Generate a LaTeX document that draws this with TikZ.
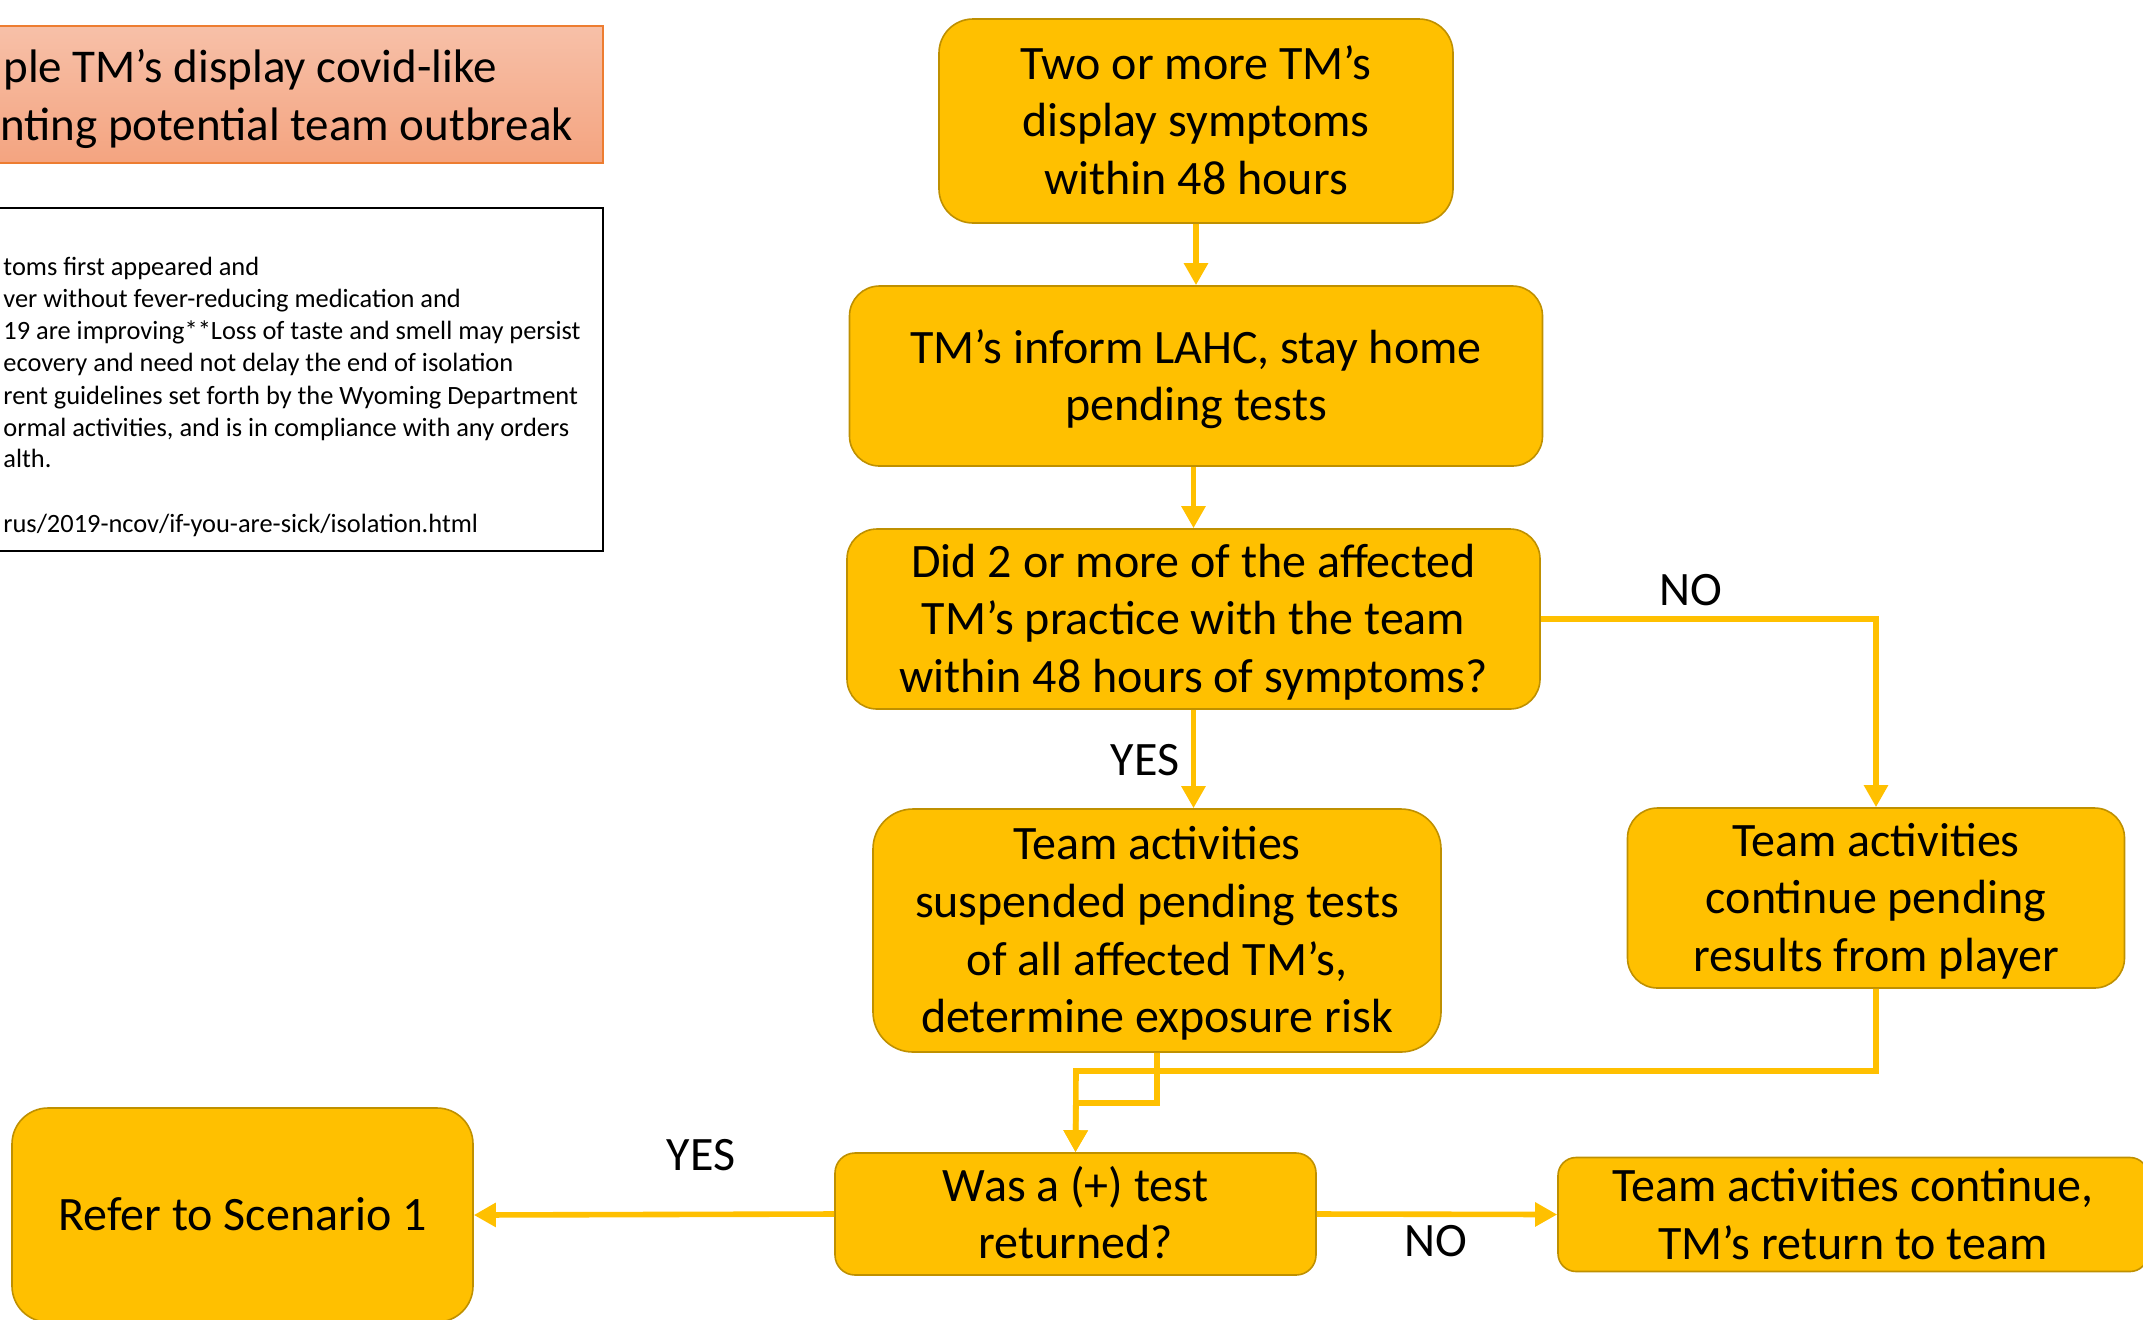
\documentclass[tikz,border=0pt]{standalone}
\usepackage{fontspec}
\setmainfont{Carlito}
\usetikzlibrary{arrows.meta}
\definecolor{gold}{HTML}{FFC000}
\definecolor{golddark}{HTML}{BF9000}
\definecolor{salmontop}{RGB}{247,192,168}
\definecolor{salmonbot}{RGB}{244,164,128}
\definecolor{salmonedge}{HTML}{ED7D31}
% fixed line-box struts so every step box centres its text the same way
\newcommand\firstlinestrut{\rule{0pt}{22pt}}
\newcommand\lastlinestrut{\rule[-6.2pt]{0pt}{6.2pt}}

\begin{document}
\begin{tikzpicture}[x=0.5pt,y=-0.5pt,
  stepbox/.style={draw=golddark, fill=gold, line width=0.8pt, align=center,
    inner sep=0pt, font=\fontsize{24}{28.8}\selectfont},
  flow/.style={draw=gold, line width=2.8pt, line join=miter,
    -{Triangle[length=11pt,width=11.5pt]}},
  lbl/.style={font=\fontsize{24}{28.8}\selectfont, inner sep=0pt},
  headtext/.style={anchor=base west, inner sep=0pt, font=\fontsize{23.5}{28.8}\selectfont},
  notetext/.style={anchor=base west, inner sep=0pt, font=\fontsize{13.2}{16}\selectfont}]
\clip (0,0) rectangle (2143,1319);

% title banner
\shadedraw[top color=salmontop, bottom color=salmonbot, draw=salmonedge, line width=0.6pt]
  (-20,26) rectangle (603,163);
\node[headtext] (h1) at (3,82) {ple TM’s display covid-like};
\node[headtext] (h2) at (0,140) {nting potential team outbreak};

% isolation notes
\draw[black, line width=1pt, fill=white] (-20,208) rectangle (603,551);
\node[notetext] (n1) at (3,275) {toms first appeared and};
\node[notetext] (n2) at (3,307) {ver without fever-reducing medication and};
\node[notetext] (n3) at (3,339.5) {19 are improving**Loss of taste and smell may persist};
\node[notetext] (n4) at (3,371.5) {ecovery and need not delay the end of isolation};
\node[notetext] (n5) at (3,404) {rent guidelines set forth by the Wyoming Department};
\node[notetext] (n6) at (3,436) {ormal activities, and is in compliance with any orders};
\node[notetext] (n7) at (3,467.5) {alth.};
\node[notetext] (n8) at (3,532) {rus/2019-ncov/if-you-are-sick/isolation.html};

% flow steps
\node[stepbox, minimum width=257pt, minimum height=102pt, rounded corners=17pt] (b1) at (1196,121)
  {\firstlinestrut Two or more TM’s\\display symptoms\\within 48 hours\lastlinestrut};
\node[stepbox, minimum width=346.5pt, minimum height=90pt, rounded corners=15pt] (b2) at (1196,376)
  {\firstlinestrut TM’s inform LAHC, stay home\\pending tests\lastlinestrut};
\node[stepbox, minimum width=346.5pt, minimum height=90pt, rounded corners=15pt] (b3) at (1193.5,619)
  {\firstlinestrut Did 2 or more of the affected\\TM’s practice with the team\\within 48 hours of symptoms?\lastlinestrut};
\node[stepbox, minimum width=284pt, minimum height=121.5pt, rounded corners=20pt] (b4) at (1157,930.5)
  {\firstlinestrut Team activities\\suspended pending tests\\of all affected TM’s,\\determine exposure risk\lastlinestrut};
\node[stepbox, minimum width=248.5pt, minimum height=90pt, rounded corners=15pt] (b5) at (1876,898)
  {\firstlinestrut Team activities\\continue pending\\results from player\lastlinestrut};
\node[stepbox, minimum width=240.5pt, minimum height=61pt, rounded corners=10pt] (b6) at (1075.5,1214)
  {\firstlinestrut Was a (+) test\\returned?\lastlinestrut};
\node[stepbox, minimum width=295pt, minimum height=55.5pt, rounded corners=9pt] (b7) at (1853,1214.5)
  {\firstlinestrut Team activities continue,\\TM’s return to team\lastlinestrut};
\node[stepbox, minimum width=230.5pt, minimum height=107pt, rounded corners=18pt] (b8) at (242.5,1215)
  {\firstlinestrut Refer to Scenario 1\lastlinestrut};

% connectors
\coordinate (m1) at (1076,1103);
\coordinate (m2) at (1076,1071);
\draw[flow] (b1.south) -- (b2.north);
\draw[flow] (b2.south -| b3.north) -- (b3.north);
\draw[flow] (b3.south) -- (b3.south |- b4.north);
\draw[flow] (b3.east) -| (b5.north);
\draw[flow] (b4.south) |- (m1) -- (b6.north);
\draw[flow] (b5.south) |- (m2) -- (b6.north);
\draw[flow] (b6.west) -- (b8.east);
\draw[flow] (b6.east) -- (b7.west);

% branch labels
\node[lbl] (no1) at (1691,590) {NO};
\node[lbl] (yes1) at (1145,760) {YES};
\node[lbl] (yes2) at (701,1155) {YES};
\node[lbl] (no2) at (1436,1241) {NO};
\end{tikzpicture}
\end{document}
